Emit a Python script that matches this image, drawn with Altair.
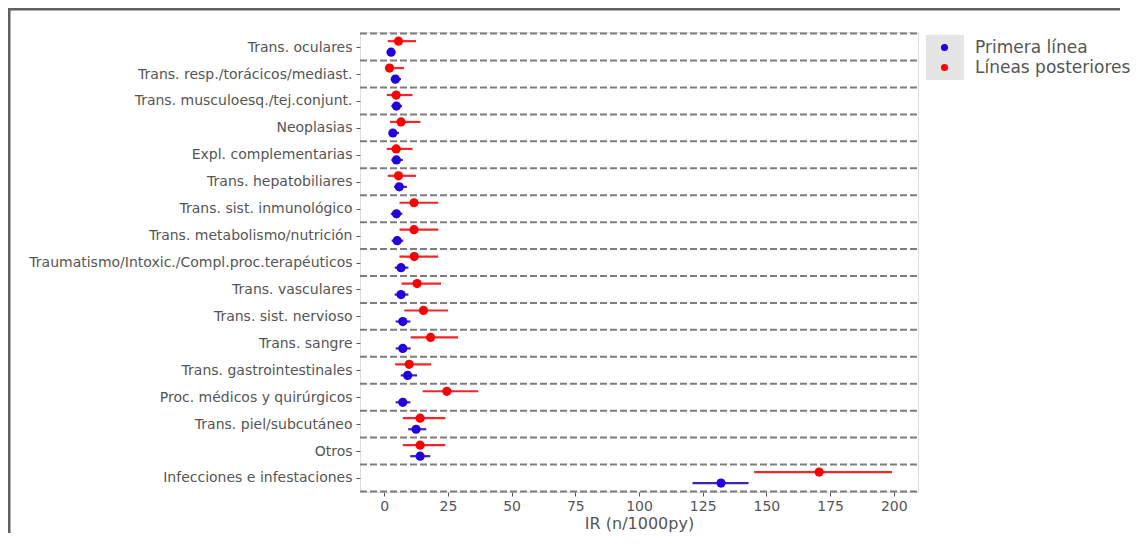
import json
import numpy as np
import pandas as pd
import altair as alt

categories = [
    "Trans. oculares",
    "Trans. resp./torácicos/mediast.",
    "Trans. musculoesq./tej.conjunt.",
    "Neoplasias",
    "Expl. complementarias",
    "Trans. hepatobiliares",
    "Trans. sist. inmunológico",
    "Trans. metabolismo/nutrición",
    "Traumatismo/Intoxic./Compl.proc.terapéuticos",
    "Trans. vasculares",
    "Trans. sist. nervioso",
    "Trans. sangre",
    "Trans. gastrointestinales",
    "Proc. médicos y quirúrgicos",
    "Trans. piel/subcutáneo",
    "Otros",
    "Infecciones e infestaciones",
]

groups = ["Primera línea", "Líneas posteriores"]

# Primera línea (blue)
blue_ir = [2.7, 4.4, 4.8, 3.4, 4.8, 5.9, 4.8, 5.1, 6.6, 6.6, 7.3, 7.3, 9.2, 7.3, 12.5, 14.1, 132.2]
blue_lo = [1.5, 2.6, 2.8, 1.9, 2.8, 3.9, 2.6, 2.9, 4.1, 4.1, 4.5, 4.5, 6.5, 4.5, 9.4, 10.2, 121.0]
blue_hi = [4.3, 6.6, 7.0, 5.8, 7.3, 8.9, 7.1, 7.5, 9.5, 9.5, 10.3, 10.4, 12.9, 10.3, 16.5, 18.1, 143.0]

# Líneas posteriores (red)
red_ir = [5.6, 2.1, 4.7, 6.6, 4.7, 5.6, 11.7, 11.7, 11.8, 12.9, 15.4, 18.2, 9.8, 24.6, 14.1, 14.1, 170.7]
red_lo = [1.4, 0.4, 1.0, 2.3, 1.0, 1.4, 6.0, 6.0, 6.0, 6.8, 7.9, 10.4, 4.3, 15.1, 7.3, 7.3, 145.2]
red_hi = [12.5, 7.8, 11.1, 14.2, 11.1, 12.5, 21.2, 21.2, 21.2, 22.3, 25.1, 29.0, 18.4, 36.9, 24.0, 24.0, 199.3]

x_ticks = [0, 25, 50, 75, 100, 125, 150, 175, 200]

n = len(categories)
rows = []
for i, c in enumerate(categories):
    rows.append({"idx": i, "cat": c, "grupo": groups[0], "ir": blue_ir[i], "lo": blue_lo[i], "hi": blue_hi[i]})
    rows.append({"idx": i, "cat": c, "grupo": groups[1], "ir": red_ir[i], "lo": red_lo[i], "hi": red_hi[i]})
df = pd.DataFrame(rows)

bounds = pd.DataFrame({"b": np.arange(n + 1) - 0.5})

FONT = "DejaVu Sans"
GREY = "#555555"
dot_colors = ["#2200dd", "#ff0000"]
BLUE_LINE = "#3a24c4"
RED_LINE = "#f0262a"

label_expr = json.dumps(categories) + "[datum.value]"

xscale = alt.Scale(domain=[-9.5, 209.5], nice=False, zero=False)
yscale = alt.Scale(domain=[-0.56, 16.52], reverse=True, nice=False, zero=False)

xaxis = alt.Axis(
    values=x_ticks, title="IR (n/1000py)", grid=True, gridColor="white", gridWidth=1.3,
    domain=False, tickColor=GREY, tickSize=4, labelColor=GREY, labelFontSize=14,
    labelFont=FONT, labelPadding=3, titleColor=GREY, titleFontSize=16, titleFont=FONT,
    titleFontWeight="normal", titlePadding=2,
)
yaxis = alt.Axis(
    values=list(range(n)), labelExpr=label_expr, title=None, grid=True, gridColor="white",
    gridWidth=1.3, domain=False, tickColor=GREY, tickSize=4, labelColor=GREY,
    labelFontSize=14, labelFont=FONT, labelPadding=4, labelLimit=400,
)

base = alt.Chart(df).transform_calculate(
    ypos="datum.idx + (datum.grupo == 'Primera línea' ? 0.19 : -0.22)"
)

dashes = alt.Chart(bounds).mark_rule(
    color="#7d7d7d", strokeWidth=2, strokeDash=[7, 3]
).encode(
    y=alt.Y("b:Q", scale=yscale, axis=yaxis),
    x=alt.value(0),
    x2=alt.value(558),
)

ci = base.mark_rule(strokeWidth=2.2).encode(
    x=alt.X("lo:Q", scale=xscale, axis=xaxis),
    x2="hi:Q",
    y=alt.Y("ypos:Q", scale=yscale, axis=yaxis),
    stroke=alt.condition("datum.grupo == 'Primera línea'", alt.value(BLUE_LINE), alt.value(RED_LINE)),
)

dots = base.mark_circle(size=85, opacity=1).encode(
    x=alt.X("ir:Q", scale=xscale, axis=xaxis),
    y=alt.Y("ypos:Q", scale=yscale, axis=yaxis),
    color=alt.Color(
        "grupo:N",
        scale=alt.Scale(domain=groups, range=dot_colors),
        legend=alt.Legend(
            title=None, orient="none", legendX=576, legendY=7, symbolType="circle",
            symbolSize=50, labelFontSize=17, labelFont=FONT, labelColor=GREY,
            labelOffset=22, rowPadding=2, padding=0, symbolStrokeWidth=0,
            symbolOpacity=1,
        ),
    ),
)

one = pd.DataFrame({"a": [0]})
legend_box = alt.Chart(one).mark_rect(color="#e5e5e5").encode(
    x=alt.value(566), x2=alt.value(604), y=alt.value(3), y2=alt.value(48)
)
border_top = alt.Chart(one).mark_rule(color="#606060", strokeWidth=3).encode(
    x=alt.value(-352), x2=alt.value(760), y=alt.value(-23)
)
border_left = alt.Chart(one).mark_rule(color="#606060", strokeWidth=3).encode(
    x=alt.value(-351), y=alt.value(-24), y2=alt.value(520)
)

chart = alt.layer(
    legend_box, border_top, border_left, dashes, ci, dots
).properties(
    width=558, height=460,
    autosize=alt.AutoSizeParams(type="none"),
    padding={"left": 352, "top": 24, "right": 216, "bottom": 41},
).configure_view(
    fill="#e5e5e5", stroke=None
).configure(background="white")

chart.save("out.html", embed_options={"renderer": "svg", "actions": False})
